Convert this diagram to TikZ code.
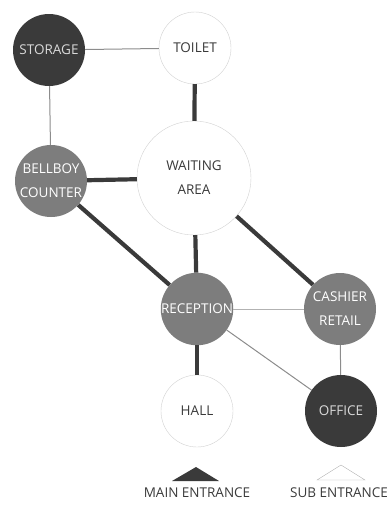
\documentclass[tikz,border=0pt]{standalone}
\usepackage{fontspec}
\setmainfont{Open Sans}
\definecolor{darkroom}{HTML}{3A3A3A}
\definecolor{midroom}{HTML}{7D7D7D}
\definecolor{thinlink}{HTML}{8C8C8C}

\tikzset{
    room/.style={circle, minimum size=72pt, inner sep=0pt, align=center,
        font=\fontsize{13.5}{24}\selectfont},
    privateroom/.style={room, fill=darkroom, text=gray!30},
    serviceroom/.style={room, fill=midroom, text=white},
    openroom/.style={room, fill=white, draw=gray!35, text=darkroom},
    strong/.style={line width=4.2pt, draw=darkroom},
    weak/.style={line width=1pt, draw=thinlink}
}

\begin{document}
\begin{tikzpicture}[x=1pt, y=-1pt]
        \useasboundingbox (0,0) rectangle (390,506);

        % rooms
        \node [privateroom] (storage) at (49,50) {STORAGE};
        \node [openroom] (toilet) at (195,48) {TOILET};
        \node [openroom, minimum size=114pt] (waiting) at (194,178) {WAITING\\AREA};
        \node [serviceroom] (bellboy) at (51,181) {BELLBOY\\COUNTER};
        \node [serviceroom] (reception) at (197,309) {RECEPTION};
        \node [serviceroom] (cashier) at (340,309) {CASHIER\\RETAIL};
        \node [openroom] (hall) at (197,411) {HALL};
        \node [privateroom] (office) at (341,411) {OFFICE};

        % links
        \draw [weak] (storage) -- (toilet);
        \draw [weak] (storage) -- (bellboy);
        \draw [strong] (toilet) -- (waiting);
        \draw [strong] (bellboy) -- (waiting);
        \draw [strong] (bellboy) -- (reception);
        \draw [strong] (waiting) -- (reception);
        \draw [strong] (waiting) -- (cashier);
        \draw [weak, draw=gray!60] (reception) -- (cashier);
        \draw [weak] (reception) -- (office);
        \draw [strong] (reception) -- (hall);
        \draw [weak] (cashier) -- (office);

        % entrances
        \fill [darkroom] (172,481) -- (196,467) -- (219,481) -- cycle;
        \draw [gray!60] (317,480) -- (341,465) -- (365,480) -- cycle;
        \node [font=\fontsize{13.5}{16}\selectfont, text=darkroom] (mainentrance) at (197,493) {MAIN ENTRANCE};
        \node [font=\fontsize{13.5}{16}\selectfont, text=darkroom] (subentrance) at (339,493) {SUB ENTRANCE};
    \end{tikzpicture}
\end{document}
